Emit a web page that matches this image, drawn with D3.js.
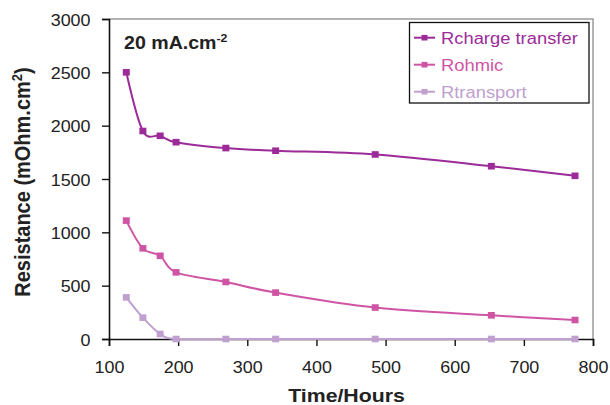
<!DOCTYPE html>
<html><head><meta charset="utf-8">
<script src="https://cdn.jsdelivr.net/npm/d3@7/dist/d3.min.js"></script>
<style>
html,body{margin:0;padding:0;background:#fff;}
svg{display:block;font-family:"Liberation Sans",Arial,sans-serif;}
</style></head>
<body>
<svg id="c" width="610" height="405"></svg>
<script>
const hours = [125, 149, 174, 197, 269, 341, 485, 653, 774];
const rChargeTransfer = [2500, 1950, 1905, 1845, 1790, 1765, 1730, 1620, 1530];
const rOhmic = [1110, 850, 780, 625, 535, 435, 295, 222, 178];
const rTransport = [390, 200, 47, 0, 0, 0, 0, 0, 0];
const seriesNames = ["Rcharge transfer", "Rohmic", "Rtransport"];
const seriesColors = ["#9c2b99", "#cf55a4", "#bfa0cf"];
const xTicks = [100, 200, 300, 400, 500, 600, 700, 800];
const yTicks = [0, 500, 1000, 1500, 2000, 2500, 3000];

const SX = 1.12; // horizontal text stretch of the original
const svg = d3.select("#c");
const L = 109, R = 593, T = 19, B = 339;
const x = d3.scaleLinear().domain([100, 800]).range([L, R]);
const y = d3.scaleLinear().domain([0, 3000]).range([B, T]);

// plot border (grey top and right)
svg.append("path").attr("d", `M${L},${T}H${R}V${B}`).attr("fill", "none")
  .attr("stroke", "#9a9a9a").attr("stroke-width", 1.5);

// axes
const xAxis = svg.append("g").attr("transform", `translate(0,${B})`)
  .call(d3.axisBottom(x).tickValues(xTicks).tickSize(7).tickPadding(0).tickFormat(d3.format("d")));
const yAxis = svg.append("g").attr("transform", `translate(${L},0)`)
  .call(d3.axisLeft(y).tickValues(yTicks).tickSize(7).tickPadding(0).tickFormat(d3.format("d")));
[xAxis, yAxis].forEach(g => {
  g.select(".domain").attr("stroke", "#111").attr("stroke-width", 1.6);
  g.selectAll(".tick line").attr("stroke", "#111").attr("stroke-width", 1.4);
  g.selectAll("text").attr("fill", "#222").style("font-size", "16px")
   .style("font-family", '"Liberation Sans",Arial,sans-serif');
});
xAxis.selectAll(".tick text").attr("dy", null).attr("y", 0)
  .attr("transform", `translate(0,34) scale(${SX},1)`);
yAxis.selectAll(".tick text").attr("dy", null).attr("x", 0)
  .attr("transform", `translate(-18.5,6) scale(${SX},1)`);

// series
const series = [rChargeTransfer, rOhmic, rTransport];
const line = d3.line().x(d => x(d[0])).y(d => y(d[1])).curve(d3.curveCardinal.tension(0));
series.slice().reverse().forEach((vals, ri) => {
  const i = series.length - 1 - ri;
  const pts = hours.map((h, k) => [h, vals[k]]);
  svg.append("path").datum(pts).attr("d", line).attr("fill", "none")
    .attr("stroke", seriesColors[i]).attr("stroke-width", 2);
  svg.append("g").selectAll("rect").data(pts).join("rect")
    .attr("x", d => x(d[0]) - 3.5).attr("y", d => y(d[1]) - 3.3)
    .attr("width", 7).attr("height", 6.6).attr("fill", seriesColors[i]);
});

// annotation
const ann = svg.append("text").attr("transform", `translate(124,49) scale(${SX},1)`)
  .attr("font-weight", "bold").style("font-size", "17.5px").attr("fill", "#222");
ann.append("tspan").text("20 mA.cm");
ann.append("tspan").attr("dy", -7).style("font-size", "11px").text("-2");

// legend
const lg = svg.append("g");
lg.append("rect").attr("x", 409.5).attr("y", 22.5).attr("width", 179.5).attr("height", 80.5)
  .attr("fill", "#fff").attr("stroke", "#111").attr("stroke-width", 1.3);
seriesNames.forEach((n, i) => {
  const ly = 37.7 + i * 27;
  lg.append("line").attr("x1", 414).attr("x2", 435).attr("y1", ly).attr("y2", ly)
    .attr("stroke", seriesColors[i]).attr("stroke-width", 2);
  lg.append("rect").attr("x", 421.5).attr("y", ly - 2.8).attr("width", 6).attr("height", 5.6)
    .attr("fill", seriesColors[i]);
  lg.append("text").attr("transform", `translate(441,${ly + 6}) scale(${SX},1)`)
    .style("font-size", "16.4px").attr("fill", seriesColors[i]).text(n);
});

// axis titles
svg.append("text").attr("transform", `translate(346.5,402) scale(${SX},1)`)
  .attr("text-anchor", "middle").attr("font-weight", "bold").style("font-size", "19px")
  .attr("fill", "#222").text("Time/Hours");
const yt = svg.append("text").attr("transform", `translate(30,182) rotate(-90) scale(1,${SX})`)
  .attr("text-anchor", "middle").attr("font-weight", "bold").style("font-size", "20px")
  .attr("fill", "#222");
yt.append("tspan").text("Resistance (mOhm.cm");
yt.append("tspan").attr("dy", -7).style("font-size", "13px").text("2");
yt.append("tspan").attr("dy", 7).text(")");
</script>
</body></html>
